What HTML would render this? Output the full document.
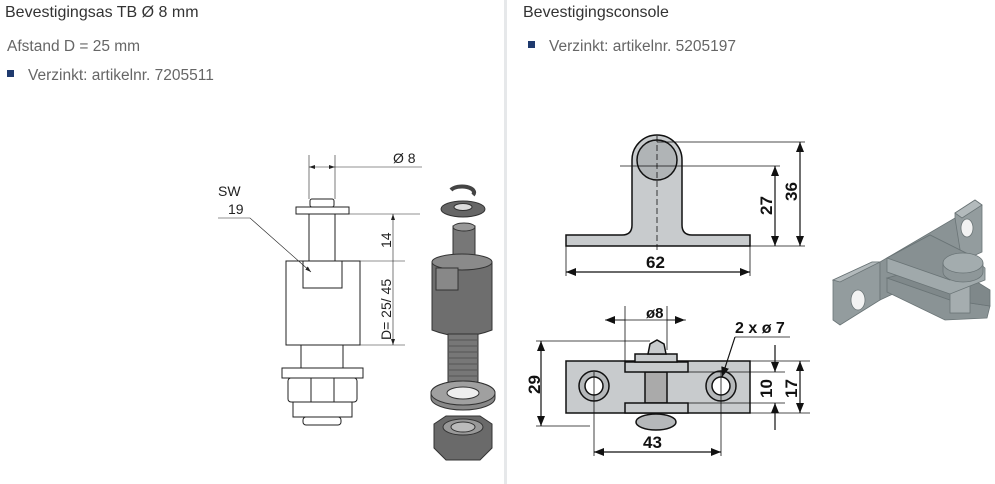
<!DOCTYPE html>
<html><head><meta charset="utf-8"><style>
html,body{margin:0;padding:0;background:#fff;}
body{width:995px;height:484px;position:relative;overflow:hidden;font-family:"Liberation Sans",sans-serif;}
.t{position:absolute;color:#333;white-space:nowrap;}
.h{font-size:16px;}
.s{font-size:15.5px;color:#666;font-weight:300;}
.b{display:inline-block;width:7px;height:7px;background:#1f3a6e;margin-right:14px;vertical-align:middle;position:relative;top:-2px;}
</style></head><body>
<div class="t h" style="left:5px;top:4px">Bevestigingsas TB Ø 8 mm</div>
<div class="t s" style="left:7px;top:38px">Afstand D = 25 mm</div>
<div class="t s" style="left:7px;top:67px"><span class="b"></span>Verzinkt: artikelnr. 7205511</div>
<div class="t h" style="left:523px;top:4px">Bevestigingsconsole</div>
<div class="t s" style="left:528px;top:38px"><span class="b"></span>Verzinkt: artikelnr. 5205197</div>
<div style="position:absolute;left:504px;top:0;width:3px;height:484px;background:#e6e8ea"></div>
<svg width="995" height="484" style="position:absolute;left:0;top:0" font-family="Liberation Sans, sans-serif">
<defs>
<marker id="a" markerWidth="10" markerHeight="8" refX="10" refY="4" orient="auto-start-reverse" markerUnits="userSpaceOnUse"><path d="M0,0L10,4L0,8z" fill="#111"/></marker>
<marker id="sa" markerWidth="6" markerHeight="4" refX="6" refY="2" orient="auto-start-reverse" markerUnits="userSpaceOnUse"><path d="M0,0L6,2L0,4z" fill="#222"/></marker>
</defs>
<g stroke="#222" stroke-width="1" fill="#fff">
<line x1="309" y1="155" x2="309" y2="199" stroke-width="0.6"/>
<line x1="335" y1="155" x2="335" y2="199" stroke-width="0.6"/>
<line x1="309" y1="167" x2="335" y2="167" stroke-width="0.6" marker-start="url(#sa)" marker-end="url(#sa)"/>
<line x1="335" y1="167" x2="422" y2="167" stroke-width="0.6"/>
<rect x="310" y="199" width="24" height="8" rx="2"/>
<rect x="296" y="207" width="53" height="7"/>
<rect x="309" y="214" width="26" height="47"/>
<rect x="286" y="261" width="74" height="84"/>
<rect x="303" y="261" width="39" height="27"/>
<line x1="349" y1="214" x2="420" y2="214" stroke-width="0.6"/>
<line x1="360" y1="261" x2="405" y2="261" stroke-width="0.6"/>
<line x1="360" y1="345" x2="405" y2="345" stroke-width="0.6"/>
<line x1="393" y1="214" x2="393" y2="345" stroke-width="0.6" marker-start="url(#sa)" marker-end="url(#sa)"/>
<rect x="301" y="345" width="42" height="23"/>
<rect x="282" y="368" width="81" height="10"/>
<rect x="288" y="378" width="69" height="24" rx="3"/>
<line x1="311" y1="378" x2="311" y2="402"/><line x1="334" y1="378" x2="334" y2="402"/>
<rect x="293" y="402" width="59" height="15"/>
<rect x="303" y="417" width="38" height="8" rx="3"/>
<polyline points="218,218 250,218 311,272" fill="none" stroke-width="0.6" marker-end="url(#sa)"/>
</g>
<g font-size="14" fill="#222">
<text x="393" y="163">Ø 8</text>
<text x="218" y="196">SW</text>
<text x="228" y="214">19</text>
<text transform="translate(391,248) rotate(-90)">14</text>
<text transform="translate(391,340) rotate(-90)">D= 25/ 45</text>
</g>
<g stroke="#333" stroke-width="1">
<path d="M451,190 a12,6 0 1 1 22,5" fill="none" stroke="#444" stroke-width="4"/>
<ellipse cx="463" cy="209" rx="22" ry="8" fill="#666"/>
<ellipse cx="463" cy="207" rx="9" ry="3.5" fill="#ddd"/>
<rect x="453" y="226" width="22" height="38" fill="#777"/>
<ellipse cx="464" cy="227" rx="11" ry="4" fill="#999"/>
<path d="M432,262 L492,262 L492,330 Q462,342 432,330 Z" fill="#6e6e6e"/>
<ellipse cx="462" cy="262" rx="30" ry="8" fill="#8a8a8a"/>
<rect x="436" y="268" width="22" height="22" fill="#888"/>
<rect x="448" y="334" width="30" height="48" fill="#777"/>
<path d="M448,340h30M448,346h30M448,352h30M448,358h30M448,364h30M448,370h30M448,376h30" stroke="#555"/>
<path d="M431,398 a32,12 0 0 0 64,0 v-5 a32,12 0 0 0 -64,0z" fill="#888"/>
<ellipse cx="463" cy="393" rx="32" ry="12" fill="#a0a0a0"/>
<ellipse cx="463" cy="393" rx="16" ry="6" fill="#eee"/>
<path d="M434,424 L446,416 L480,416 L492,424 L492,448 L480,460 L446,460 L434,448Z" fill="#6a6a6a"/>
<ellipse cx="463" cy="427" rx="20" ry="8" fill="#999"/>
<ellipse cx="463" cy="427" rx="12" ry="5" fill="#bbb"/>
</g>
<g stroke="#111" stroke-width="1.5" fill="#c8cbcd">
<path d="M566,235 L622,235 Q632,235 632,225 L632,160 A25,25 0 0 1 682,160 L682,225 Q682,235 692,235 L750,235 L750,246 L566,246 Z"/>
<circle cx="657" cy="160" r="20" fill="#b0b4b6"/>
</g>
<g stroke="#111" stroke-width="0.8" fill="none">
<line x1="657" y1="136" x2="657" y2="250" stroke-dasharray="6,3"/>
<line x1="620" y1="166" x2="780" y2="166"/>
<line x1="657" y1="142" x2="805" y2="142"/>
<line x1="750" y1="246" x2="805" y2="246"/>
<line x1="566" y1="246" x2="566" y2="276"/><line x1="750" y1="246" x2="750" y2="276"/>
<line x1="566" y1="272" x2="750" y2="272" stroke-width="1.2" marker-start="url(#a)" marker-end="url(#a)"/>
<line x1="775" y1="166" x2="775" y2="246" stroke-width="1.2" marker-start="url(#a)" marker-end="url(#a)"/>
<line x1="800" y1="142" x2="800" y2="246" stroke-width="1.2" marker-start="url(#a)" marker-end="url(#a)"/>
</g>
<g font-size="17" font-weight="bold" fill="#111">
<text x="646" y="268">62</text>
<text transform="translate(772,215) rotate(-90)">27</text>
<text transform="translate(797,201) rotate(-90)">36</text>
<text x="646" y="318" font-size="15">ø8</text>
<text x="735" y="333" font-size="16">2 x ø 7</text>
<text transform="translate(540,394) rotate(-90)">29</text>
<text transform="translate(772,398) rotate(-90)">10</text>
<text transform="translate(797,398) rotate(-90)">17</text>
<text x="643" y="448">43</text>
</g>
<g stroke="#111" stroke-width="1.5" fill="#c8cbcd">
<rect x="566" y="361" width="184" height="52"/>
<circle cx="594" cy="386" r="15" fill="#b5b8ba"/><circle cx="594" cy="386" r="9" fill="#fff"/>
<circle cx="721" cy="386" r="15" fill="#b5b8ba"/><circle cx="721" cy="386" r="9" fill="#fff"/>
<rect x="645" y="372" width="22" height="31" fill="#aaa"/>
<rect x="625" y="362" width="63" height="10"/>
<rect x="625" y="403" width="63" height="10"/>
<rect x="635" y="354" width="42" height="8"/>
<path d="M648,354 L650,344 L657,340 L664,344 L666,354Z"/>
<ellipse cx="656" cy="422" rx="20" ry="8" fill="#b5b8ba"/>
</g>
<g stroke="#111" stroke-width="0.8" fill="none">
<line x1="625" y1="306" x2="625" y2="362"/><line x1="667" y1="306" x2="667" y2="350"/>
<line x1="625" y1="320" x2="605" y2="320" marker-end="url(#a)"/>
<line x1="667" y1="320" x2="685" y2="320" marker-end="url(#a)"/>
<line x1="606" y1="320" x2="686" y2="320"/>
<line x1="790" y1="337" x2="735" y2="337"/><line x1="735" y1="337" x2="722" y2="377" stroke-width="1.2" marker-end="url(#a)"/>
<line x1="536" y1="341" x2="650" y2="341"/><line x1="536" y1="426" x2="590" y2="426"/>
<line x1="541" y1="341" x2="541" y2="426" stroke-width="1.2" marker-start="url(#a)" marker-end="url(#a)"/>
<line x1="688" y1="372" x2="785" y2="372"/><line x1="688" y1="403" x2="785" y2="403"/>
<line x1="750" y1="361" x2="810" y2="361"/><line x1="750" y1="413" x2="810" y2="413"/>
<line x1="775" y1="345" x2="775" y2="372" stroke-width="1.2" marker-end="url(#a)"/>
<line x1="775" y1="430" x2="775" y2="403" stroke-width="1.2" marker-end="url(#a)"/>
<line x1="800" y1="361" x2="800" y2="413" stroke-width="1.2" marker-start="url(#a)" marker-end="url(#a)"/>
<line x1="594" y1="372" x2="594" y2="456"/><line x1="721" y1="372" x2="721" y2="456"/>
<line x1="594" y1="452" x2="721" y2="452" stroke-width="1.2" marker-start="url(#a)" marker-end="url(#a)"/>
</g>
<!-- isometric -->
<g stroke="#6a7476" stroke-width="0.8">
<path d="M833,280 L872,262 L880,262 L880,300 L840,325 L833,320Z" fill="#939c9e"/>
<path d="M833,280 L872,262 L880,262 L840,282Z" fill="#b3babc"/>
<path d="M955,213 L975,200 L982,205 L982,252 L960,262 L955,250Z" fill="#939c9e"/>
<path d="M955,213 L975,200 L982,205 L962,218Z" fill="#b3babc"/>
<path d="M880,262 L955,218 L962,262 L880,300Z" fill="#8a9395"/>
<ellipse cx="858" cy="300" rx="7" ry="10" fill="#f2f2f2"/>
<ellipse cx="967" cy="228" rx="6" ry="9" fill="#f2f2f2"/>
<path d="M887,292 L945,320 L987,318 L990,306 L950,300 L887,278Z" fill="#8a9395"/>
<path d="M887,278 L945,262 L990,290 L990,306 L950,300Z" fill="#7f888a"/>
<rect x="950" y="275" width="20" height="38" fill="#a5adaf"/>
<path d="M887,258 L930,235 L970,255 L985,268 L985,280 L950,294 L887,272Z" fill="#a0a9ab"/>
<path d="M887,258 L930,235 L970,255 L950,280Z" fill="#879092"/>
<path d="M943,263 L943,272 A20,10 0 0 0 983,272 L983,263Z" fill="#8e9799"/>
<ellipse cx="963" cy="263" rx="20" ry="10" fill="#a3acae"/>
</g>
</svg>
</body></html>
